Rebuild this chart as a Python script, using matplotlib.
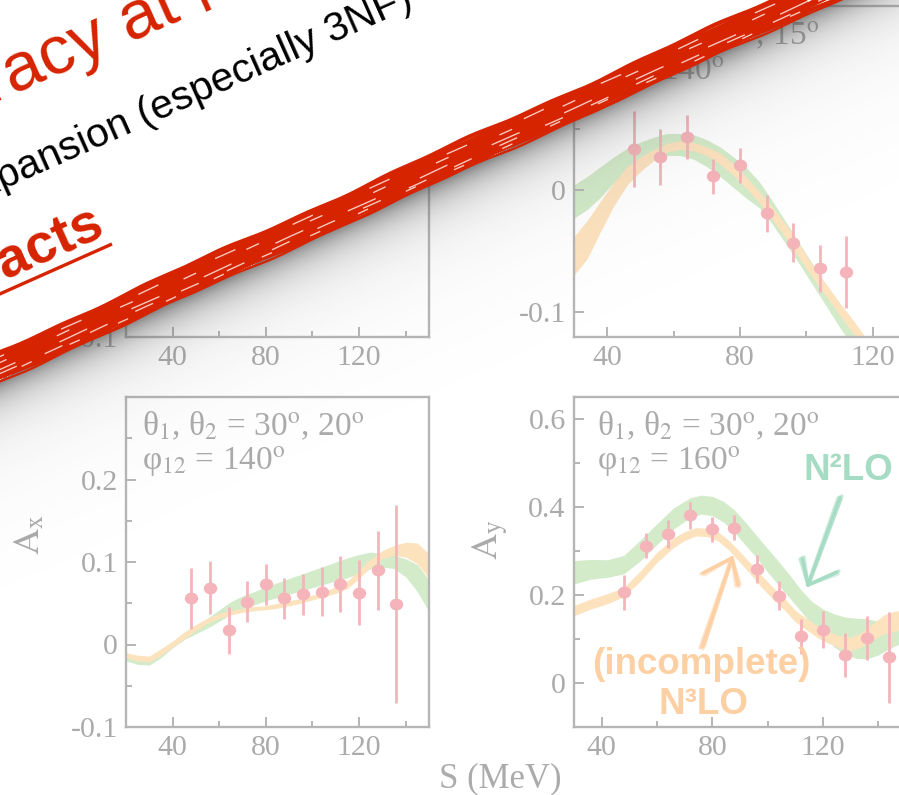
import numpy as np
import matplotlib
matplotlib.use("Agg")
import matplotlib.pyplot as plt
from matplotlib.markers import MarkerStyle
from matplotlib.transforms import Affine2D
from matplotlib.ticker import FixedLocator, FuncFormatter
from matplotlib.patches import Polygon

plt.rcParams["font.family"] = ["Liberation Serif", "DejaVu Serif"]
plt.rcParams["mathtext.fontset"] = "stix"
plt.rcParams["axes.unicode_minus"] = False

GRAY = "#ababab"
SPINE = "#b6b6b6"
PINK = "#f5b4ba"
GREEN = "#d3ebc9"
ORANGE = "#fde2be"
RED = "#d62300"
MINT = "#a6dcc4"
PEACH = "#fdd0a4"
SANS = ["Liberation Sans", "DejaVu Sans"]

# ---------------- top-right panel ----------------
tr_S = [30, 34, 38, 42, 46, 50, 54, 58, 62, 66, 70, 74, 78, 82, 86, 90, 94,
        98, 102, 106, 110, 114, 118, 122]
tr_green_lo = [-0.023, -0.016, -0.006, 0.006, 0.016, 0.022, 0.026, 0.028, 0.028,
               0.025, 0.019, 0.011, 0.002, -0.007, -0.015, -0.029, -0.045,
               -0.061, -0.078, -0.095, -0.112, -0.128, -0.145, -0.160]
tr_green_hi = [0.004, 0.011, 0.019, 0.027, 0.034, 0.039, 0.043, 0.046, 0.046,
               0.045, 0.041, 0.035, 0.027, 0.018, 0.006, -0.010, -0.027,
               -0.044, -0.061, -0.079, -0.096, -0.112, -0.129, -0.145]
tr_orange_lo = [-0.0695, -0.056, -0.034, -0.013, 0.004, 0.015, 0.024, 0.031, 0.033,
                0.032, 0.028, 0.021, 0.012, 0.001, -0.011, -0.025, -0.040,
                -0.056, -0.072, -0.087, -0.102, -0.117, -0.132, -0.147]
tr_orange_hi = [-0.038, -0.025, -0.009, 0.006, 0.019, 0.027, 0.033, 0.038, 0.040,
                0.039, 0.035, 0.030, 0.021, 0.010, -0.002, -0.015, -0.029,
                -0.045, -0.062, -0.077, -0.092, -0.106, -0.121, -0.136]
tr_pts_S = [48, 56, 64, 72, 80, 88, 96, 104, 112]
tr_pts_A = [0.033, 0.027, 0.043, 0.011, 0.020, -0.019, -0.043, -0.064, -0.067]
tr_pts_err = [0.031, 0.023, 0.018, 0.0145, 0.014, 0.015, 0.016, 0.019, 0.029]

# ---------------- bottom-left panel: A_x ----------------
bl_S = [20, 25, 30, 35, 40, 45, 50, 55, 60, 65, 70, 75, 80, 85, 90, 95, 100,
        105, 110, 115, 120, 125, 130, 135, 140, 145, 150]
bl_green_lo = [-0.020, -0.024, -0.025, -0.016, -0.004, 0.006, 0.013, 0.020, 0.028,
               0.037, 0.043, 0.048, 0.053, 0.057, 0.061, 0.065, 0.069, 0.073,
               0.077, 0.081, 0.086, 0.092, 0.094, 0.092, 0.082, 0.064, 0.040]
bl_green_hi = [-0.013, -0.016, -0.017, -0.006, 0.004, 0.015, 0.024, 0.032, 0.042,
               0.052, 0.059, 0.064, 0.070, 0.075, 0.080, 0.085, 0.090, 0.095,
               0.100, 0.105, 0.109, 0.112, 0.110, 0.108, 0.104, 0.097, 0.078]
bl_orange_lo = [-0.016, -0.020, -0.021, -0.013, -0.003, 0.007, 0.017, 0.026, 0.032,
                0.036, 0.039, 0.041, 0.042, 0.044, 0.047, 0.050, 0.054, 0.058,
                0.062, 0.068, 0.080, 0.094, 0.104, 0.108, 0.106, 0.098, 0.080]
bl_orange_hi = [-0.010, -0.013, -0.014, -0.005, 0.004, 0.015, 0.024, 0.032, 0.038,
                0.041, 0.044, 0.046, 0.047, 0.050, 0.053, 0.056, 0.060, 0.064,
                0.070, 0.077, 0.090, 0.104, 0.114, 0.120, 0.124, 0.123, 0.110]
bl_pts_S = [48, 56, 64, 72, 80, 88, 96, 104, 112, 120, 128, 136]
bl_pts_A = [0.056, 0.069, 0.017, 0.052, 0.073, 0.056, 0.061, 0.064, 0.073,
            0.063, 0.090, 0.049]
bl_pts_err = [0.037, 0.032, 0.029, 0.025, 0.025, 0.025, 0.025, 0.030, 0.034,
              0.039, 0.048, 0.120]

# ---------------- bottom-right panel: A_y ----------------
br_S_green = [30, 36, 42, 48, 54, 60, 66, 72, 76, 80, 84, 88, 92, 96, 100, 104,
              108, 112, 116, 120, 124, 128, 132, 136, 140, 144, 148, 150]
br_green_lo = [0.225, 0.236, 0.240, 0.248, 0.278, 0.315, 0.350, 0.376, 0.384,
               0.380, 0.366, 0.343, 0.313, 0.285, 0.252, 0.222, 0.193, 0.163,
               0.133, 0.108, 0.082, 0.065, 0.056, 0.055, 0.064, 0.078, 0.090, 0.095]
br_green_hi = [0.278, 0.281, 0.280, 0.290, 0.325, 0.362, 0.398, 0.421, 0.427,
               0.424, 0.413, 0.393, 0.365, 0.335, 0.305, 0.276, 0.245, 0.212,
               0.185, 0.168, 0.157, 0.150, 0.147, 0.146, 0.140, 0.130, 0.120, 0.118]
br_S_orange = [30, 36, 42, 48, 54, 60, 66, 70, 74, 78, 82, 86, 90, 94, 98, 102,
               106, 110, 114, 118, 122, 126, 130, 134, 138, 142, 146, 150]
br_orange_lo = [0.153, 0.168, 0.180, 0.196, 0.232, 0.274, 0.308, 0.324, 0.334,
                0.333, 0.323, 0.302, 0.274, 0.246, 0.216, 0.190, 0.166, 0.139,
                0.121, 0.103, 0.090, 0.080, 0.074, 0.082, 0.098, 0.112, 0.118, 0.120]
br_orange_hi = [0.176, 0.191, 0.203, 0.217, 0.255, 0.297, 0.330, 0.344, 0.353,
                0.352, 0.344, 0.324, 0.298, 0.271, 0.243, 0.217, 0.193, 0.165,
                0.147, 0.130, 0.117, 0.108, 0.104, 0.115, 0.135, 0.155, 0.163, 0.166]
br_pts_S = [48, 56, 64, 72, 80, 88, 96, 104, 112, 120, 128, 136, 144]
br_pts_A = [0.206, 0.312, 0.338, 0.381, 0.349, 0.353, 0.259, 0.198, 0.106,
            0.121, 0.064, 0.102, 0.058]
br_pts_err = [0.040, 0.028, 0.032, 0.031, 0.029, 0.028, 0.032, 0.033, 0.040,
              0.042, 0.050, 0.050, 0.103]

# ---------------- figure & panel frames (pixel boxes) ----------------
W, H = 899, 795
fig = plt.figure(figsize=(W / 100, H / 100), dpi=100)


def box(x0, y0, x1, y1):
    return [x0 / W, 1 - y1 / H, (x1 - x0) / W, (y1 - y0) / H]


fmt = FuncFormatter(lambda v, p: "0" if abs(v) < 1e-9 else f"{v:g}")


def style(ax, xlim, ylim, xmaj, xmin, ymaj, ymin):
    ax.set_xlim(xlim)
    ax.set_ylim(ylim)
    for s in ax.spines.values():
        s.set_color(SPINE)
        s.set_linewidth(1.7)
    ax.xaxis.set_major_locator(FixedLocator(xmaj))
    ax.xaxis.set_minor_locator(FixedLocator(xmin))
    ax.yaxis.set_major_locator(FixedLocator(ymaj))
    ax.yaxis.set_minor_locator(FixedLocator(ymin))
    ax.yaxis.set_major_formatter(fmt)
    ax.tick_params(which="both", direction="in", color=SPINE, width=1.4,
                   top=False, right=False, labelcolor=GRAY, labelsize=21.5)
    ax.tick_params(which="major", length=7, pad=6)
    ax.tick_params(which="minor", length=4)
    ax.set_facecolor("white")


marker = MarkerStyle("o", transform=Affine2D().scale(1.12, 1.0))


def draw(ax, Sg, glo, ghi, So, olo, ohi, px, py, pe):
    ax.fill_between(Sg, glo, ghi, color=GREEN, lw=0, zorder=1)
    ax.fill_between(So, olo, ohi, color=ORANGE, lw=0, zorder=2)
    ax.errorbar(px, py, yerr=pe, fmt="none", ecolor=PINK, elinewidth=2.0,
                capsize=0, zorder=3)
    ax.plot(px, py, ls="none", marker=marker, ms=8.6, color=PINK, mec="none",
            zorder=4)


def angle_text(ax, x1, x2, l1, l2):
    kw = dict(transform=ax.transAxes, fontsize=24, color=GRAY, ha="left",
              va="baseline", zorder=5)
    ax.text(x1, 0.885, l1, **kw)
    ax.text(x2, 0.779, l2, **kw)


def theta_line(a, b):
    return f"θ$_1$, θ$_2$ = {a}$^{{\\rm o}}$, {b}$^{{\\rm o}}$"


def phi_line(c):
    return f"φ$_{{12}}$ = {c}$^{{\\rm o}}$"


# top-left (mostly covered)
ax_tl = fig.add_axes(box(126, 6, 429, 337))
style(ax_tl, (20, 150), (-0.1, 0.3), [40, 80, 120], [60, 100, 140],
      [-0.1, 0, 0.1, 0.2], [-0.05, 0.05, 0.15, 0.25])

# top-right
ax_tr = fig.add_axes(box(574, 6, 906, 337))
style(ax_tr, (30, 130), (-0.12, 0.15), [40, 80, 120], [60, 100],
      [-0.1, 0, 0.1], [-0.05, 0.05])
draw(ax_tr, tr_S, tr_green_lo, tr_green_hi, tr_S, tr_orange_lo, tr_orange_hi,
     tr_pts_S, tr_pts_A, tr_pts_err)
angle_text(ax_tr, 0.069, 0.02, theta_line(40, 15), phi_line(140))

# bottom-left
ax_bl = fig.add_axes(box(126, 397, 429, 727))
style(ax_bl, (20, 150), (-0.1, 0.3), [40, 80, 120], [60, 100, 140],
      [-0.1, 0, 0.1, 0.2], [-0.05, 0.05, 0.15, 0.25])
draw(ax_bl, bl_S, bl_green_lo, bl_green_hi, bl_S, bl_orange_lo, bl_orange_hi,
     bl_pts_S, bl_pts_A, bl_pts_err)
angle_text(ax_bl, 0.053, 0.053, theta_line(30, 20), phi_line(140))
ax_bl.set_ylabel(r"$\mathrm{A}_{\mathrm{x}}$", fontsize=26, color=GRAY,
                 ha="center", va="center")
ax_bl.yaxis.set_label_coords((30 - 126) / 303, (727 - 535) / 330)

# bottom-right
ax_br = fig.add_axes(box(574, 397, 906, 727))
style(ax_br, (30, 150), (-0.1, 0.65), [40, 80, 120], [60, 100, 140],
      [0, 0.2, 0.4, 0.6], [0.1, 0.3, 0.5])
draw(ax_br, br_S_green, br_green_lo, br_green_hi, br_S_orange, br_orange_lo,
     br_orange_hi, br_pts_S, br_pts_A, br_pts_err)
angle_text(ax_br, 0.069, 0.069, theta_line(30, 20), phi_line(160))
ax_br.set_ylabel(r"$\mathrm{A}_{\mathrm{y}}$", fontsize=26, color=GRAY,
                 ha="center", va="center")
ax_br.yaxis.set_label_coords((491 - 574) / 332, (727 - 540) / 330)

fig.text(500 / W, 1 - 779 / H, "S (MeV)", fontsize=25, color=GRAY,
         ha="center", va="center")

# ---------------- slide overlay (pixel coordinates, y downward) ----------------
ov = fig.add_axes([0, 0, 1, 1], zorder=10)
ov.patch.set_visible(False)
ov.axis("off")

SLOPE = 0.455
ANG = np.degrees(np.arctan(SLOPE))


def edge(x):
    return 380 - SLOPE * np.asarray(x, dtype=float)


# drop shadow under the torn edge
yy, xx = np.mgrid[0:H, 0:W] + 0.5
dist = (yy - edge(xx)) * np.cos(np.radians(ANG))
alpha = np.where(dist > 0, 0.55 * np.exp(-dist / 16) + 0.18 * np.exp(-dist / 50), 0)
shade = np.zeros((H, W, 4))
shade[..., :3] = 0.3
shade[..., 3] = alpha
ov.imshow(shade, extent=(0, W, H, 0), interpolation="bilinear", aspect="auto",
          zorder=1)

# white slide area
ov.add_patch(Polygon([(-10, -80), (W + 10, -80), (W + 10, edge(W + 10) - 4),
                      (-10, edge(-10) - 4)], closed=True, fc="white", ec="none",
                     zorder=2))

ROT = 24.0
ux, uy = np.cos(np.radians(ROT)), -np.sin(np.radians(ROT))
tx = dict(rotation=ROT, rotation_mode="anchor", va="baseline", zorder=3)
ov.text(182, 19, "Accuracy at", color=RED, fontsize=50, family=SANS,
        ha="right", **tx)
sp = 0.278 * 50 * 100 / 72
ov.text(182 + sp * ux, 19 + sp * uy, "N³LO", color=RED, fontsize=50,
        family=SANS, ha="left", **tx)
ov.text(415, 6, "Convergence of chiral expansion (especially 3NF)",
        color="black", fontsize=29.5, family=SANS, ha="right", **tx)
ov.text(107, 235, "Regulator artifacts", color=RED, fontsize=40, family=SANS,
        weight="bold", ha="right", **tx)
ov.plot([112 - 600 * ux, 112], [244 - 600 * uy, 244], color=RED, lw=2.4,
        solid_capstyle="butt", zorder=3)

# hand-drawn red stroke along the edge
xs = np.linspace(-30, W + 30, 500)
base = edge(xs)
ov.plot(xs, base - 14, color=RED, lw=18, solid_capstyle="butt", zorder=4)
strokes = [(-28, 3.0), (-25, 2.5), (-21, 3.5), (-16, 3.0), (-9, 3.5), (-4, 3.0),
           (-0.5, 2.5), (1.0, 1.6)]
for k, (off, lw) in enumerate(strokes):
    wig = 1.3 * np.sin(xs / 41 + 1.9 * k) + 0.7 * np.sin(xs / 13 + 0.8 * k)
    ov.plot(xs, base + off + wig, color=RED, lw=lw, zorder=4)
for k, (off, pat) in enumerate([(-6.5, (0, (14, 22))), (-11, (9, (22, 35))),
                                (-18, (4, (10, 40))), (-3.5, (20, (8, 30))),
                                (-23, (12, (16, 45)))]):
    wig = 0.6 * np.sin(xs / 29 + k)
    ov.plot(xs, base + off + wig, color="white", lw=1.0, alpha=0.75,
            linestyle=pat, zorder=5)

# hand-drawn annotation arrows in the A_y panel
for dx, dy, a in [(0, 0, 0.9), (2.0, -1, 0.6), (-2.0, 1, 0.6), (1.0, 2, 0.5)]:
    ov.plot([840 + dx, 808 + dx * 0.3], [497 + dy, 585], color=MINT, lw=2.4,
            alpha=a, zorder=3, solid_capstyle="round")
    ov.plot([802 + dx, 808, 837 + dx], [558 + dy, 585, 572 + dy], color=MINT,
            lw=2.4, alpha=a, zorder=3, solid_capstyle="round")
    ov.plot([702 + dx, 732 + dx * 0.3], [647 + dy, 558], color=PEACH, lw=2.4,
            alpha=a, zorder=3, solid_capstyle="round")
    ov.plot([703 + dx, 732, 738 + dx], [573 + dy, 558, 585 + dy], color=PEACH,
            lw=2.4, alpha=a, zorder=3, solid_capstyle="round")

ov.text(848, 470, "N²LO", color=MINT, fontsize=26.5, family=SANS, weight="bold",
        ha="center", va="center", zorder=3)
ov.text(701, 664, "(incomplete)", color=PEACH, fontsize=26.5, family=SANS,
        weight="bold", ha="center", va="center", zorder=3)
ov.text(703, 705, "N³LO", color=PEACH, fontsize=26.5, family=SANS,
        weight="bold", ha="center", va="center", zorder=3)

ov.set_xlim(0, W)
ov.set_ylim(H, 0)

fig.savefig("out.png", dpi=100)
